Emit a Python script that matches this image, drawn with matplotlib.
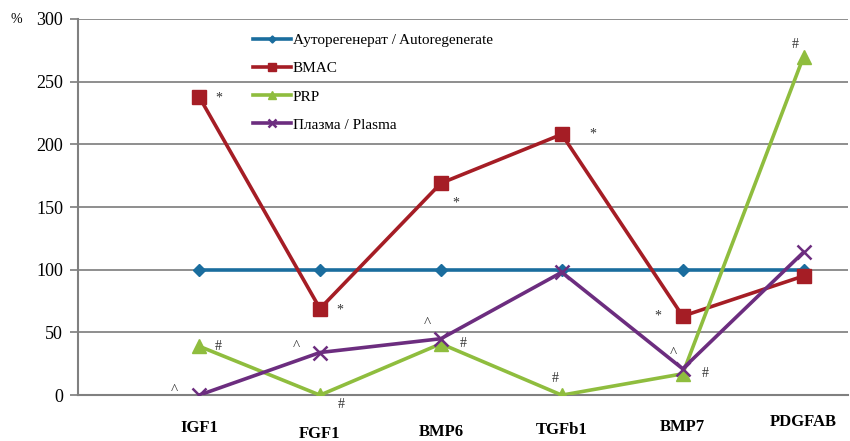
import numpy as np
import matplotlib.pyplot as plt

# Данные (значения, % относительно ауторегенерата)
categories = ['IGF1', 'FGF1', 'BMP6', 'TGFb1', 'BMP7', 'PDGFAB']
autoregen = [100, 100, 100, 100, 100, 100]
bmac = [238, 69, 169, 208, 63, 95]
prp = [39, 0, 41, 0, 17, 270]
plasma = [0, 34, 45, 98, 21, 114]

series_labels = ['Ауторегенерат / Autoregenerate', 'BMAC', 'PRP', 'Плазма / Plasma']

# значки значимости
bmac_marks = ['*', '*', '*', '*', '*', '']
prp_marks = ['#', '#', '#', '#', '#', '#']
plasma_marks = ['^', '^', '^', '', '^', '']

plt.rcParams['font.family'] = ['Liberation Serif', 'DejaVu Serif']

fig = plt.figure(figsize=(8.5, 4.41), dpi=100)
ax = fig.add_axes([0.092, 0.104, 0.906, 0.853])

x = np.arange(len(categories))
c_auto, c_bmac, c_prp, c_pl = '#1a6d9e', '#a51d25', '#8fbd3e', '#6c2d7f'

ax.plot(x, autoregen, color=c_auto, lw=2.6, marker='D', ms=6, label=series_labels[0], zorder=3)
ax.plot(x, bmac, color=c_bmac, lw=2.6, marker='s', ms=10, label=series_labels[1], zorder=3)
ax.plot(x, prp, color=c_prp, lw=2.6, marker='^', ms=10, label=series_labels[2], zorder=3)
ax.plot(x, plasma, color=c_pl, lw=2.6, marker='x', ms=10, mew=1.8, label=series_labels[3], zorder=3)

ax.set_xlim(-1.0, 5.37)
ax.set_ylim(0, 300)
ax.set_yticks(np.arange(0, 301, 50))
ax.yaxis.grid(True, color='#8e8e8e', lw=1.4)
ax.set_axisbelow(True)
for s in ['top', 'right']:
    ax.spines[s].set_visible(False)
ax.spines['left'].set_color('#808080')
ax.spines['left'].set_linewidth(1.5)
ax.spines['bottom'].set_color('#808080')
ax.spines['bottom'].set_linewidth(1.5)
ax.tick_params(axis='y', length=6, width=1.4, color='#8e8e8e', labelsize=13, pad=5)
ax.tick_params(axis='x', length=0)
ax.set_xticks(x)
ax.set_xticklabels([''] * len(categories))

# подписи категорий на разной высоте (в пунктах под осью)
label_drop = [24, 28, 26.5, 25, 23, 19.5]
for i, name in enumerate(categories):
    ax.annotate(name, xy=(i, 0), xycoords=ax.get_xaxis_transform(),
                xytext=(0, -label_drop[i]), textcoords='offset points',
                ha='center', va='center', fontsize=12, fontweight='bold',
                annotation_clip=False)

fig.text(0.012, 0.955, '%', fontsize=10, va='center')

# значки
ann = dict(fontsize=10, color='#333333', ha='center', va='center')
bmac_off = [(14, -1), (14, -1), (11, -14), (22, 0), (-18, 0), (0, 0)]
prp_off = [(14, 0), (15, -7), (16, 0), (-5, 12), (16, 0), (-6, 9)]
pl_off = [(-18, 3), (-17, 4), (-10, 11), (0, 0), (-7, 11), (0, 0)]
for i in range(len(categories)):
    if bmac_marks[i]:
        ax.annotate(bmac_marks[i], (x[i], bmac[i]), xytext=bmac_off[i], textcoords='offset points', **ann)
    if prp_marks[i]:
        ax.annotate(prp_marks[i], (x[i], prp[i]), xytext=prp_off[i], textcoords='offset points', **ann)
    if plasma_marks[i]:
        ax.annotate(plasma_marks[i], (x[i], plasma[i]), xytext=pl_off[i], textcoords='offset points',
                    fontsize=11, color='#333333', ha='center', va='center')

leg = ax.legend(loc='upper left', bbox_to_anchor=(0.209, 0.998), frameon=False,
                fontsize=11, handlelength=2.5, handletextpad=0.1, labelspacing=0.95,
                markerscale=0.6)

fig.savefig('out.png', dpi=100)
